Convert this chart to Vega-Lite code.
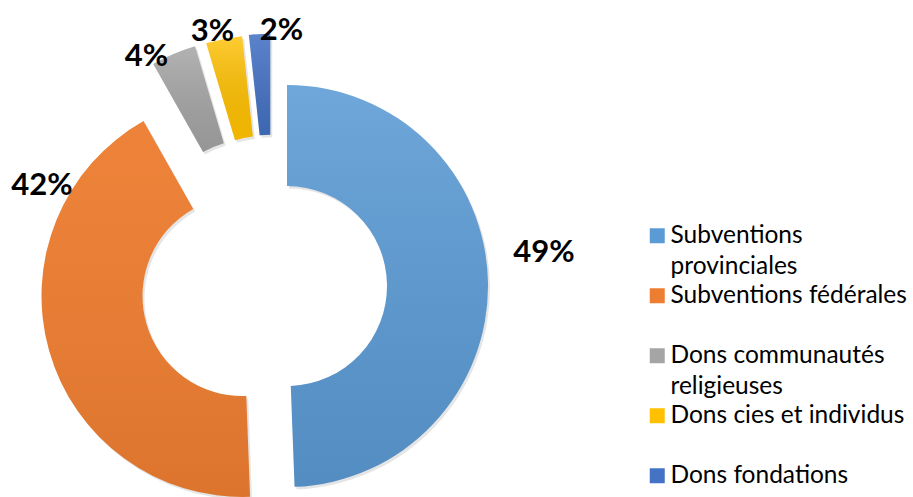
{
  "$schema": "https://vega.github.io/schema/vega-lite/v6.json",
  "width": 913,
  "height": 497,
  "padding": 0,
  "autosize": "none",
  "background": "white",
  "config": {"view": {"stroke": null}, "font": "Lato", "style": {"guide-label": {"lineHeight": 31}}},
  "data": {
    "values": [
      {"name": "Subventions provinciales", "value": 0.494},
      {"name": "Subventions fédérales", "value": 0.424},
      {"name": "Dons communautés religieuses", "value": 0.036},
      {"name": "Dons cies et individus", "value": 0.029},
      {"name": "Dons fondations", "value": 0.017}
    ]
  },
  "transform": [
    {"window": [{"op": "row_number", "as": "rank"}]},
    {"stack": "value", "groupby": [], "sort": [{"field": "rank", "order": "ascending"}], "as": ["start", "end"]}
  ],
  "layer": [
    {
      "transform": [{"filter": "datum.name === 'Subventions provinciales'"}],
      "layer": [
        {
          "mark": {"type": "arc", "innerRadius": 100, "outerRadius": 201, "xOffset": -167.5, "yOffset": 40, "fill": "#000000", "opacity": 0.1},
          "encoding": {"theta": {"field": "start", "type": "quantitative", "scale": {"domain": [0, 1]}}, "theta2": {"field": "end"}}
        },
        {
          "mark": {"type": "arc", "innerRadius": 100, "outerRadius": 201, "xOffset": -169.5, "yOffset": 37.5},
          "encoding": {
            "theta": {"field": "start", "type": "quantitative", "scale": {"domain": [0, 1]}},
            "theta2": {"field": "end"},
            "color": {"field": "name", "type": "nominal",
              "scale": {"domain": ["Subventions provinciales", "Subventions fédérales", "Dons communautés religieuses", "Dons cies et individus", "Dons fondations"], "range": ["#5b9bd5", "#ed7d31", "#a5a5a5", "#ffc000", "#4472c4"]},
              "legend": {"orient": "none", "legendX": 645, "legendY": 223.5, "title": null, "padding": 0, "symbolType": "square", "symbolSize": 225, "symbolStrokeWidth": 0, "labelFont": "Lato", "labelFontSize": 24.5, "labelColor": "#000000", "labelOffset": 1, "labelLimit": 0, "rowPadding": 4, "labelBaseline": "middle",
                "labelExpr": "datum.label === 'Subventions provinciales' ? ['Subventions', 'provinciales'] : datum.label === 'Dons communautés religieuses' ? ['Dons communautés', 'religieuses'] : [datum.label, '']"}}
          }
        },
        {
          "mark": {"type": "arc", "innerRadius": 100, "outerRadius": 201, "xOffset": -169.5, "yOffset": 37.5,
            "fill": {"gradient": "linear", "x1": 0, "y1": 0, "x2": 0, "y2": 1, "stops": [{"offset": 0, "color": "rgba(255,255,255,0.12)"}, {"offset": 1, "color": "rgba(0,0,0,0.09)"}]}},
          "encoding": {"theta": {"field": "start", "type": "quantitative", "scale": {"domain": [0, 1]}}, "theta2": {"field": "end"}}
        }
      ]
    },
    {
      "transform": [{"filter": "datum.name === 'Subventions fédérales'"}],
      "layer": [
        {
          "mark": {"type": "arc", "innerRadius": 100, "outerRadius": 201, "xOffset": -212, "yOffset": 50, "fill": "#000000", "opacity": 0.1},
          "encoding": {"theta": {"field": "start", "type": "quantitative", "scale": {"domain": [0, 1]}}, "theta2": {"field": "end"}}
        },
        {
          "mark": {"type": "arc", "innerRadius": 100, "outerRadius": 201, "xOffset": -214, "yOffset": 47.5},
          "encoding": {
            "theta": {"field": "start", "type": "quantitative", "scale": {"domain": [0, 1]}},
            "theta2": {"field": "end"},
            "color": {"field": "name", "type": "nominal"}
          }
        },
        {
          "mark": {"type": "arc", "innerRadius": 100, "outerRadius": 201, "xOffset": -214, "yOffset": 47.5,
            "fill": {"gradient": "linear", "x1": 0, "y1": 0, "x2": 0, "y2": 1, "stops": [{"offset": 0, "color": "rgba(255,255,255,0.04)"}, {"offset": 1, "color": "rgba(0,0,0,0.07)"}]}},
          "encoding": {"theta": {"field": "start", "type": "quantitative", "scale": {"domain": [0, 1]}}, "theta2": {"field": "end"}}
        }
      ]
    },
    {
      "transform": [{"filter": "datum.name === 'Dons communautés religieuses'"}],
      "layer": [
        {
          "mark": {"type": "arc", "innerRadius": 100, "outerRadius": 201, "xOffset": -202.2, "yOffset": -7, "fill": "#000000", "opacity": 0.1},
          "encoding": {"theta": {"field": "start", "type": "quantitative", "scale": {"domain": [0, 1]}}, "theta2": {"field": "end"}}
        },
        {
          "mark": {"type": "arc", "innerRadius": 100, "outerRadius": 201, "xOffset": -204.2, "yOffset": -9.5},
          "encoding": {
            "theta": {"field": "start", "type": "quantitative", "scale": {"domain": [0, 1]}},
            "theta2": {"field": "end"},
            "color": {"field": "name", "type": "nominal"}
          }
        },
        {
          "mark": {"type": "arc", "innerRadius": 100, "outerRadius": 201, "xOffset": -204.2, "yOffset": -9.5,
            "fill": {"gradient": "linear", "x1": 0, "y1": 0, "x2": 0, "y2": 1, "stops": [{"offset": 0, "color": "rgba(255,255,255,0.15)"}, {"offset": 1, "color": "rgba(0,0,0,0.09)"}]}},
          "encoding": {"theta": {"field": "start", "type": "quantitative", "scale": {"domain": [0, 1]}}, "theta2": {"field": "end"}}
        }
      ]
    },
    {
      "transform": [{"filter": "datum.name === 'Dons cies et individus'"}],
      "layer": [
        {
          "mark": {"type": "arc", "innerRadius": 100, "outerRadius": 201, "xOffset": -191, "yOffset": -10, "fill": "#000000", "opacity": 0.1},
          "encoding": {"theta": {"field": "start", "type": "quantitative", "scale": {"domain": [0, 1]}}, "theta2": {"field": "end"}}
        },
        {
          "mark": {"type": "arc", "innerRadius": 100, "outerRadius": 201, "xOffset": -193, "yOffset": -12.5},
          "encoding": {
            "theta": {"field": "start", "type": "quantitative", "scale": {"domain": [0, 1]}},
            "theta2": {"field": "end"},
            "color": {"field": "name", "type": "nominal"}
          }
        },
        {
          "mark": {"type": "arc", "innerRadius": 100, "outerRadius": 201, "xOffset": -193, "yOffset": -12.5,
            "fill": {"gradient": "linear", "x1": 0, "y1": 0, "x2": 0, "y2": 1, "stops": [{"offset": 0, "color": "rgba(255,255,255,0.2)"}, {"offset": 1, "color": "rgba(0,0,0,0.05)"}]}},
          "encoding": {"theta": {"field": "start", "type": "quantitative", "scale": {"domain": [0, 1]}}, "theta2": {"field": "end"}}
        }
      ]
    },
    {
      "transform": [{"filter": "datum.name === 'Dons fondations'"}],
      "layer": [
        {
          "mark": {"type": "arc", "innerRadius": 100, "outerRadius": 201, "xOffset": -184.2, "yOffset": -11.2, "fill": "#000000", "opacity": 0.1},
          "encoding": {"theta": {"field": "start", "type": "quantitative", "scale": {"domain": [0, 1]}}, "theta2": {"field": "end"}}
        },
        {
          "mark": {"type": "arc", "innerRadius": 100, "outerRadius": 201, "xOffset": -186.2, "yOffset": -13.7},
          "encoding": {
            "theta": {"field": "start", "type": "quantitative", "scale": {"domain": [0, 1]}},
            "theta2": {"field": "end"},
            "color": {"field": "name", "type": "nominal"}
          }
        },
        {
          "mark": {"type": "arc", "innerRadius": 100, "outerRadius": 201, "xOffset": -186.2, "yOffset": -13.7,
            "fill": {"gradient": "linear", "x1": 0, "y1": 0, "x2": 0, "y2": 1, "stops": [{"offset": 0, "color": "rgba(255,255,255,0.12)"}, {"offset": 1, "color": "rgba(0,0,0,0.1)"}]}},
          "encoding": {"theta": {"field": "start", "type": "quantitative", "scale": {"domain": [0, 1]}}, "theta2": {"field": "end"}}
        }
      ]
    },
    {
      "mark": {"type": "text", "radius": 250, "xOffset": -169.5, "yOffset": 37.5, "dx": 7, "dy": -28.3, "fontSize": 31, "fontWeight": "bold", "font": "Lato", "color": "#000000", "align": "center", "baseline": "middle"},
      "encoding": {
        "theta": {"field": "value", "type": "quantitative", "stack": true, "scale": {"domain": [0, 1]}},
        "order": {"field": "rank"},
        "detail": {"field": "name"},
        "text": {"condition": {"test": "datum.name === 'Subventions provinciales'", "field": "value", "type": "quantitative", "format": ".0%"}, "value": ""}
      }
    },
    {
      "mark": {"type": "text", "radius": 200, "xOffset": -214, "yOffset": 47.5, "dx": -8.1, "dy": -164.6, "fontSize": 31, "fontWeight": "bold", "font": "Lato", "color": "#000000", "align": "center", "baseline": "middle"},
      "encoding": {
        "theta": {"field": "value", "type": "quantitative", "stack": true, "scale": {"domain": [0, 1]}},
        "order": {"field": "rank"},
        "detail": {"field": "name"},
        "text": {"condition": {"test": "datum.name === 'Subventions fédérales'", "field": "value", "type": "quantitative", "format": ".0%"}, "value": ""}
      }
    },
    {
      "mark": {"type": "text", "radius": 205, "xOffset": -204.2, "yOffset": -9.5, "dx": -25.6, "dy": 7.1, "fontSize": 31, "fontWeight": "bold", "font": "Lato", "color": "#000000", "align": "center", "baseline": "middle"},
      "encoding": {
        "theta": {"field": "value", "type": "quantitative", "stack": true, "scale": {"domain": [0, 1]}},
        "order": {"field": "rank"},
        "detail": {"field": "name"},
        "text": {"condition": {"test": "datum.name === 'Dons communautés religieuses'", "field": "value", "type": "quantitative", "format": ".0%"}, "value": ""}
      }
    },
    {
      "mark": {"type": "text", "radius": 205, "xOffset": -193, "yOffset": -12.5, "dx": -10.7, "dy": -3.5, "fontSize": 31, "fontWeight": "bold", "font": "Lato", "color": "#000000", "align": "center", "baseline": "middle"},
      "encoding": {
        "theta": {"field": "value", "type": "quantitative", "stack": true, "scale": {"domain": [0, 1]}},
        "order": {"field": "rank"},
        "detail": {"field": "name"},
        "text": {"condition": {"test": "datum.name === 'Dons cies et individus'", "field": "value", "type": "quantitative", "format": ".0%"}, "value": ""}
      }
    },
    {
      "mark": {"type": "text", "radius": 205, "xOffset": -186.2, "yOffset": -13.7, "dx": 22.1, "dy": 1.4, "fontSize": 31, "fontWeight": "bold", "font": "Lato", "color": "#000000", "align": "center", "baseline": "middle"},
      "encoding": {
        "theta": {"field": "value", "type": "quantitative", "stack": true, "scale": {"domain": [0, 1]}},
        "order": {"field": "rank"},
        "detail": {"field": "name"},
        "text": {"condition": {"test": "datum.name === 'Dons fondations'", "field": "value", "type": "quantitative", "format": ".0%"}, "value": ""}
      }
    }
  ]
}
